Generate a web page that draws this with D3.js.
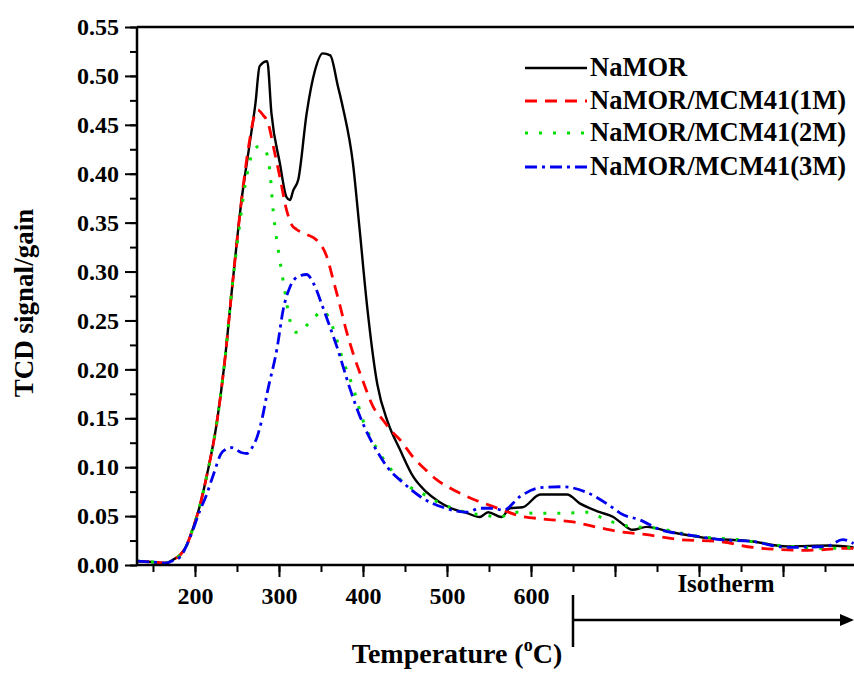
<!DOCTYPE html>
<html>
<head>
<meta charset="utf-8">
<script src="https://cdn.jsdelivr.net/npm/d3@7"></script>
<style>
  body { margin: 0; background: #fff; }
  text { font-family: "Liberation Serif", "Times New Roman", serif; font-weight: bold; }
</style>
</head>
<body>
<script>
// temperatures (C) and TCD signal/gain
var naT = [131,150,165,175,182,190,197,205,215,225,235,245,255,265,272,277,286,291,301,309,313,317,323,333,343,352,361,370,376,388,396,405,417,430,444,460,475,490,505,524,539,549,565,575,590,611,643,658,682,698,706,721,738,765,805,864,905,956,984];
var naV = [0.004,0.003,0.002,0.006,0.010,0.020,0.036,0.058,0.095,0.140,0.205,0.290,0.370,0.430,0.472,0.510,0.515,0.462,0.411,0.376,0.373,0.383,0.394,0.462,0.506,0.523,0.521,0.490,0.468,0.411,0.343,0.264,0.185,0.145,0.118,0.090,0.075,0.065,0.058,0.053,0.049,0.054,0.049,0.058,0.059,0.072,0.072,0.063,0.054,0.049,0.044,0.036,0.039,0.034,0.028,0.024,0.019,0.020,0.018];

var m1T = [131,150,165,175,182,190,197,205,215,225,235,245,255,265,271,275,281,287,294,301,309,315,321,333,345,357,365,373,380,388,400,412,424,436,444,460,475,488,503,519,535,551,567,583,614,650,682,706,738,777,825,864,929,976,984];
var m1V = [0.004,0.003,0.002,0.006,0.010,0.020,0.036,0.058,0.095,0.140,0.205,0.290,0.370,0.434,0.460,0.465,0.460,0.452,0.425,0.397,0.363,0.348,0.343,0.338,0.332,0.315,0.290,0.264,0.240,0.217,0.188,0.162,0.148,0.135,0.128,0.110,0.097,0.087,0.079,0.072,0.066,0.061,0.056,0.051,0.047,0.044,0.038,0.034,0.031,0.026,0.024,0.018,0.015,0.017,0.017];

var m2T = [131,150,165,175,182,190,197,205,215,225,235,245,252,260,268,276,283,289,293,301,307,313,320,325,333,341,352,358,364,376,388,400,420,436,450,471,490,507,527,545,563,579,602,643,667,690,721,745,801,845,896,960,984];
var m2V = [0.004,0.003,0.002,0.006,0.010,0.020,0.036,0.058,0.095,0.140,0.205,0.290,0.340,0.390,0.420,0.428,0.425,0.404,0.363,0.312,0.280,0.250,0.238,0.238,0.245,0.252,0.260,0.255,0.243,0.210,0.182,0.148,0.114,0.095,0.083,0.073,0.064,0.058,0.053,0.051,0.049,0.054,0.053,0.053,0.054,0.046,0.039,0.038,0.029,0.026,0.020,0.017,0.018];

var m3T = [131,150,165,175,182,195,206,213,221,233,244,255,262,268,274,280,286,298,305,313,323,333,341,352,360,369,385,395,405,417,429,448,468,495,524,539,555,567,587,611,638,667,698,706,730,754,786,825,864,905,952,971,984];
var m3V = [0.004,0.003,0.002,0.005,0.008,0.030,0.056,0.070,0.090,0.116,0.120,0.115,0.114,0.120,0.131,0.150,0.176,0.223,0.261,0.284,0.295,0.297,0.288,0.264,0.245,0.223,0.179,0.155,0.135,0.116,0.100,0.084,0.070,0.059,0.054,0.058,0.058,0.056,0.070,0.079,0.080,0.074,0.058,0.053,0.046,0.036,0.031,0.026,0.024,0.018,0.019,0.026,0.022];

var seriesNames = ["NaMOR", "NaMOR/MCM41(1M)", "NaMOR/MCM41(2M)", "NaMOR/MCM41(3M)"];
var seriesColors = ["#000000", "#ff0000", "#00dd00", "#0000ee"];
var seriesDash = [null, "12,8", "3,11", "12,5,3,5"];
var seriesWidth = [2.4, 2.8, 3, 2.8];

var xTickLabels = [200, 300, 400, 500, 600];
var yTickLabels = [0, 0.05, 0.10, 0.15, 0.20, 0.25, 0.30, 0.35, 0.40, 0.45, 0.50, 0.55];

var allSeries = [[naT, naV], [m1T, m1V], [m2T, m2V], [m3T, m3V]].map(function (s) {
  return s[0].map(function (t, i) { return [t, s[1][i]]; });
});

var svg = d3.select('body')
    .append('svg')
    .attr('width', 854)
    .attr('height', 675)

var pLeft = 137, pRight = 854, pTop = 27, pBottom = 565;

var x = d3.scaleLinear().domain([131, 984.5]).range([pLeft, pRight]);
var y = d3.scaleLinear().domain([0, 0.55]).range([pBottom, pTop]);

// curves
var line = d3.line()
    .x(d => x(d[0]))
    .y(d => y(d[1]))
    .curve(d3.curveMonotoneX);

svg.append("defs").append("clipPath").attr("id", "clip")
  .append("rect").attr("x", pLeft).attr("y", pTop).attr("width", pRight - pLeft).attr("height", pBottom - pTop);

svg.selectAll(".curve")
    .data(allSeries)
    .enter()
    .append("path")
    .attr("class", "curve")
    .attr("clip-path", "url(#clip)")
    .attr("d", line)
    .attr("fill", "none")
    .attr("stroke", (d, i) => seriesColors[i])
    .attr("stroke-width", (d, i) => seriesWidth[i])
    .attr("stroke-dasharray", (d, i) => seriesDash[i])
    .attr("stroke-linejoin", "round");

// x axis: major every 100, minor every 50, labels only up to 600
var xMinor = d3.axisBottom(x).tickValues(d3.range(150, 1000, 50)).tickSize(7).tickFormat("");
var xMajor = d3.axisBottom(x).tickValues(d3.range(200, 1000, 100)).tickSize(12)
    .tickFormat(d => xTickLabels.indexOf(d) >= 0 ? d : "");

var gx = svg.append("g").attr("transform", "translate(0," + pBottom + ")");
gx.call(xMinor);
gx.append("g").call(xMajor);
gx.selectAll(".domain").remove();
gx.selectAll("line").attr("stroke", "#000").attr("stroke-width", 2);
gx.selectAll("text").attr("fill", "#000").attr("font-size", 24).attr("dy", "1.0em")
  .attr("font-family", "Liberation Serif").attr("font-weight", "bold");

// y axis
var yMinor = d3.axisLeft(y).tickValues(d3.range(0, 0.5501, 0.025)).tickSize(7).tickFormat("");
var yMajor = d3.axisLeft(y).tickValues(yTickLabels).tickSize(12).tickFormat(d3.format(".2f"));
var gy = svg.append("g").attr("transform", "translate(" + pLeft + ",0)");
gy.call(yMinor);
gy.append("g").call(yMajor);
gy.selectAll(".domain").remove();
gy.selectAll("line").attr("stroke", "#000").attr("stroke-width", 2);
gy.selectAll("text").attr("fill", "#000").attr("font-size", 24).attr("x", -18)
  .attr("font-family", "Liberation Serif").attr("font-weight", "bold");

// frame lines
svg.append("line").attr("x1", pLeft).attr("x2", pRight).attr("y1", pBottom).attr("y2", pBottom)
  .attr("stroke", "#000").attr("stroke-width", 2.5);
svg.append("line").attr("x1", pLeft).attr("x2", pRight).attr("y1", pTop).attr("y2", pTop)
  .attr("stroke", "#000").attr("stroke-width", 2.5);
svg.append("line").attr("x1", pLeft).attr("x2", pLeft).attr("y1", pTop).attr("y2", pBottom)
  .attr("stroke", "#000").attr("stroke-width", 2.5);

// axis titles
svg.append("text")
  .attr("transform", "translate(33,303) rotate(-90)")
  .attr("text-anchor", "middle")
  .attr("font-size", 27)
  .text("TCD signal/gain");

var xt = svg.append("text")
  .attr("x", 457).attr("y", 663)
  .attr("text-anchor", "middle")
  .attr("font-size", 28);
xt.append("tspan").text("Temperature (");
xt.append("tspan").attr("font-size", 18).attr("dy", -12).text("o");
xt.append("tspan").attr("dy", 12).text("C)");

// isotherm marker
svg.append("text").attr("x", 726).attr("y", 592).attr("text-anchor", "middle")
  .attr("font-size", 25).text("Isotherm");
svg.append("line").attr("x1", x(650)).attr("x2", x(650)).attr("y1", 595).attr("y2", 647)
  .attr("stroke", "#000").attr("stroke-width", 2.5);
svg.append("line").attr("x1", x(650)).attr("x2", 846).attr("y1", 620).attr("y2", 620)
  .attr("stroke", "#000").attr("stroke-width", 2.5);
svg.append("path").attr("d", "M854,620 L840,614 L840,626 Z").attr("fill", "#000");

// legend
var legend = svg.selectAll(".legend")
    .data(seriesNames)
    .enter()
    .append("g")
    .attr("class", "legend")
    .attr("transform", (d, i) => "translate(525," + [68, 101, 133, 167][i] + ")");
legend.append("line")
    .attr("x1", 0).attr("x2", 62).attr("y1", 0).attr("y2", 0)
    .attr("stroke", (d, i) => seriesColors[i])
    .attr("stroke-width", (d, i) => seriesWidth[i])
    .attr("stroke-dasharray", (d, i) => seriesDash[i]);
legend.append("text")
    .attr("x", 65).attr("y", 8)
    .attr("font-size", 26.5)
    .text(d => d);
</script>
</body>
</html>
